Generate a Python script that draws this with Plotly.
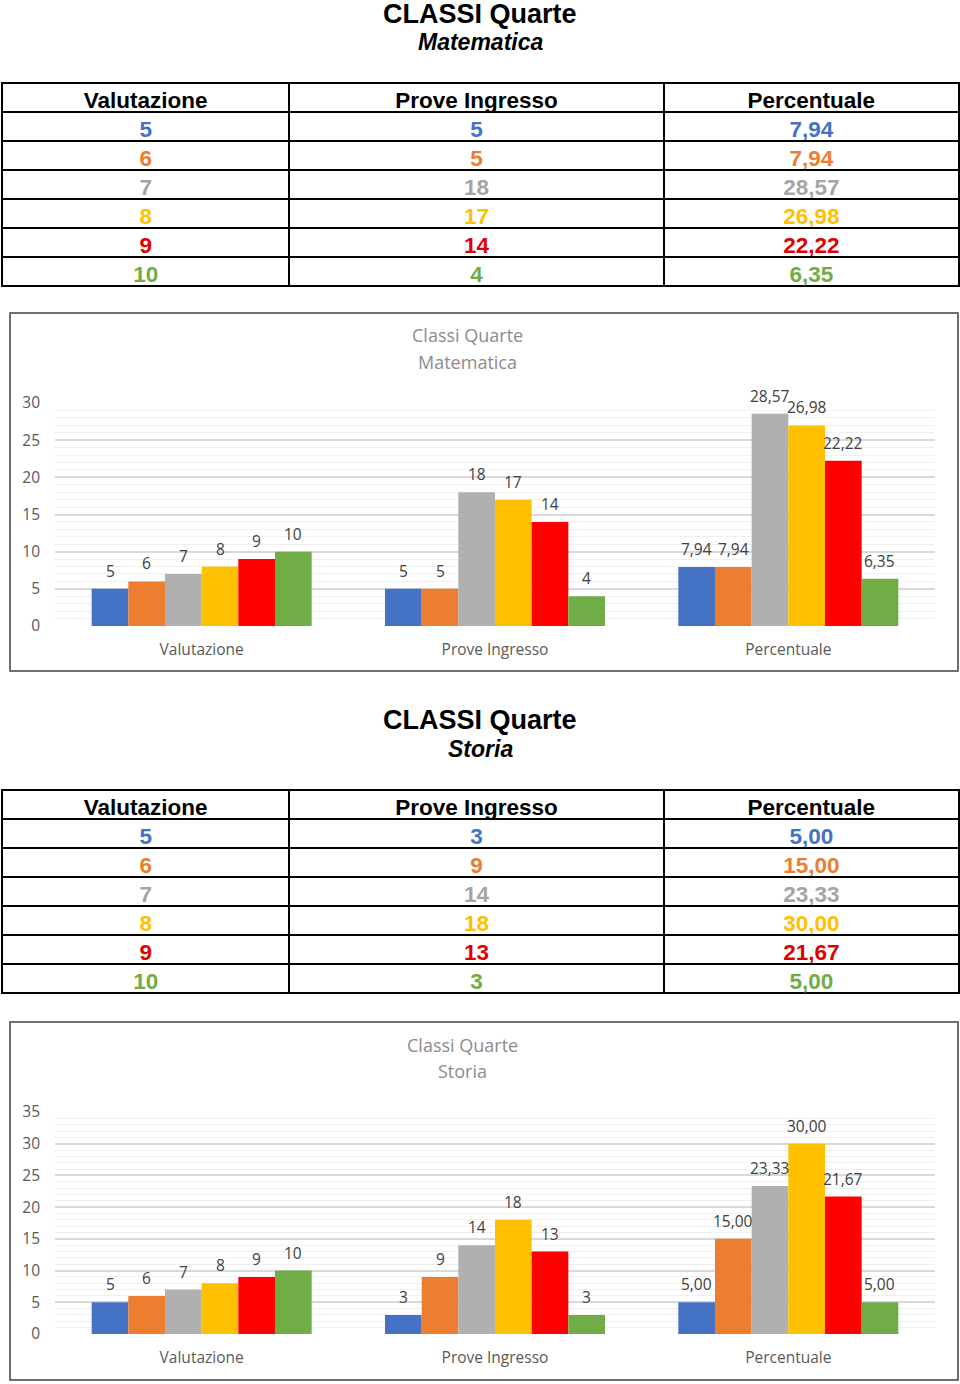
import plotly.graph_objects as go

W, H = 960, 1384

# ---------------- data ----------------
categories = ["Valutazione", "Prove Ingresso", "Percentuale"]
series_colors = ["#4472C4", "#ED7D31", "#B0B0B0", "#FFC000", "#FF0000", "#70AD47"]
table_text_colors = ["#4472C4", "#ED7D31", "#A5A5A5", "#FFC000", "#E00000", "#70AD47"]

mat_valutazione = [5, 6, 7, 8, 9, 10]
mat_prove = [5, 5, 18, 17, 14, 4]
mat_percentuale = [7.94, 7.94, 28.57, 26.98, 22.22, 6.35]

sto_valutazione = [5, 6, 7, 8, 9, 10]
sto_prove = [3, 9, 14, 18, 13, 3]
sto_percentuale = [5.00, 15.00, 23.33, 30.00, 21.67, 5.00]

mat_yticks = [0, 5, 10, 15, 20, 25, 30]
sto_yticks = [0, 5, 10, 15, 20, 25, 30, 35]


def fmt_dec(v):
    return f"{v:.2f}".replace(".", ",")


def px_x(x):
    return x / W


def px_y(y):
    return 1 - y / H


fig = go.Figure()

TABLE_FONT = "Liberation Sans, Arial, sans-serif"
CHART_FONT = "Open Sans, sans-serif"

PLOT_X0, PLOT_X1 = 55, 935
BARGAP = 0.25
N_SERIES = 6
BAR_PX = (PLOT_X1 - PLOT_X0) / len(categories) * (1 - BARGAP) / N_SERIES

annotations = []


def add_table(top, vals, prove, perc):
    bottom = top + 29 * 7 + 4
    col1 = [str(v) for v in vals]
    col2 = [str(v) for v in prove]
    col3 = [fmt_dec(v) for v in perc]
    fig.add_trace(go.Table(
        domain=dict(x=[px_x(2), px_x(959)], y=[px_y(bottom), px_y(top)]),
        columnwidth=[287, 374, 295],
        header=dict(
            values=categories,
            height=29,
            align="center",
            line=dict(color="#000000", width=2),
            fill=dict(color="white"),
            font=dict(family=TABLE_FONT, size=22.5, color="#000000", weight="bold"),
        ),
        cells=dict(
            values=[col1, col2, col3],
            height=29,
            align="center",
            line=dict(color="#000000", width=2),
            fill=dict(color="white"),
            font=dict(family=TABLE_FONT, size=22.5, weight="bold",
                      color=[table_text_colors] * 3),
        ),
    ))


def add_chart(idx, vals, prove, perc, ytop, ybottom, ymax, yticks):
    xa = "x" if idx == 1 else f"x{idx}"
    ya = "y" if idx == 1 else f"y{idx}"
    for i in range(N_SERIES):
        yv = [vals[i], prove[i], perc[i]]
        txt = [str(vals[i]), str(prove[i]), fmt_dec(perc[i])]
        fig.add_trace(go.Bar(
            x=categories, y=yv,
            marker=dict(color=series_colors[i], line=dict(width=0)),
            xaxis=xa, yaxis=ya, showlegend=False,
            name=str(vals[i]), hoverinfo="skip",
        ))
        # data labels anchored to each bar top via the axes
        for c, v, t in zip(categories, yv, txt):
            annotations.append(dict(
                x=c, y=v, xref=xa, yref=ya, text=t, showarrow=False,
                xanchor="center", yanchor="bottom",
                xshift=(i - (N_SERIES - 1) / 2) * BAR_PX, yshift=5,
                font=dict(family=CHART_FONT, size=15.5, color="#404040"),
            ))
    xkey = "xaxis" if idx == 1 else f"xaxis{idx}"
    ykey = "yaxis" if idx == 1 else f"yaxis{idx}"
    fig.update_layout(**{
        xkey: dict(domain=[px_x(PLOT_X0), px_x(PLOT_X1)], anchor=ya,
                   showgrid=False, showline=False, zeroline=False,
                   tickfont=dict(family=CHART_FONT, size=15.5, color="#595959"),
                   ticks="", ticklabelstandoff=12, fixedrange=True),
        ykey: dict(domain=[px_y(ybottom), px_y(ytop)], anchor=xa,
                   range=[0, ymax], tickvals=yticks,
                   showgrid=True, gridcolor="#D9D9D9", gridwidth=2,
                   minor=dict(dtick=1, showgrid=True, gridcolor="#F0F0F0", gridwidth=1),
                   zeroline=False, showline=False,
                   tickfont=dict(family=CHART_FONT, size=15.5, color="#595959"),
                   ticks="", ticklabelstandoff=14, fixedrange=True),
    })


add_table(83, mat_valutazione, mat_prove, mat_percentuale)
add_table(790, sto_valutazione, sto_prove, sto_percentuale)
add_chart(1, mat_valutazione, mat_prove, mat_percentuale, 403, 626, 30, mat_yticks)
add_chart(2, sto_valutazione, sto_prove, sto_percentuale, 1112, 1334, 35, sto_yticks)


def title(text, y, size, italic=False):
    annotations.append(dict(
        text=text, x=0.5, y=px_y(y), xref="paper", yref="paper",
        xanchor="center", yanchor="middle", showarrow=False,
        font=dict(family=TABLE_FONT, size=size, color="#000000", weight="bold",
                  style="italic" if italic else "normal"),
    ))


def chart_title(text, x, y):
    annotations.append(dict(
        text=text, x=px_x(x), y=px_y(y), xref="paper", yref="paper",
        xanchor="center", yanchor="middle", showarrow=False,
        font=dict(family=CHART_FONT, size=18, color="#8C8C8C"),
    ))


title("CLASSI Quarte", 14, 27)
title("Matematica", 42, 23, italic=True)
title("CLASSI Quarte", 720, 27)
title("Storia", 749, 23, italic=True)
chart_title("Classi Quarte", 467, 335)
chart_title("Matematica", 467, 362)
chart_title("Classi Quarte", 462, 1045)
chart_title("Storia", 462, 1071)

shapes = []
for (t, b) in [(313, 671), (1022, 1380)]:
    shapes.append(dict(type="rect", xref="paper", yref="paper",
                       x0=px_x(10), x1=px_x(958), y0=px_y(b), y1=px_y(t),
                       line=dict(color="#404040", width=1.5), fillcolor="rgba(0,0,0,0)"))

fig.update_layout(
    width=W, height=H,
    margin=dict(l=0, r=0, t=0, b=0, pad=0, autoexpand=False),
    paper_bgcolor="white", plot_bgcolor="white",
    barmode="group", bargap=BARGAP, bargroupgap=0,
    annotations=annotations, shapes=shapes, showlegend=False,
)

fig.write_html(
    "out.html",
    config={"displayModeBar": False},
    post_script="document.body.style.margin='0px';document.body.style.overflow='hidden';",
)
